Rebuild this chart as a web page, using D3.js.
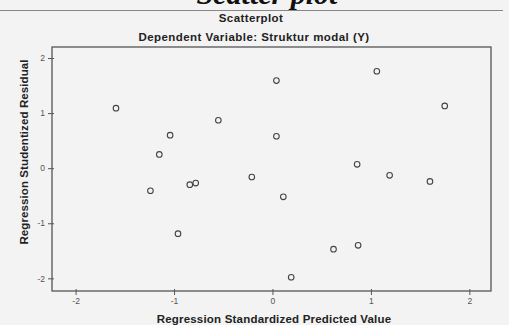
<!DOCTYPE html>
<html>
<head>
<meta charset="utf-8">
<script src="https://cdn.jsdelivr.net/npm/d3@7"></script>
<style>
  body { margin: 0; background: #f3f3f3; }
  #chart { width: 509px; height: 325px; }
</style>
</head>
<body>
<div id="chart"></div>
<script>
// predicted value (x) and studentized residual (y)
var predicted = [-1.59, -0.55, 0.04, 1.06, 1.75, -1.04, -1.15, 0.04, 0.86, -0.21,
                 1.19, 1.60, -1.24, -0.84, -0.78, 0.11, -0.96, 0.62, 0.87, 0.19];
var residual  = [1.09, 0.87, 1.59, 1.76, 1.13, 0.60, 0.25, 0.58, 0.07, -0.16,
                 -0.13, -0.24, -0.41, -0.30, -0.27, -0.52, -1.19, -1.47, -1.40, -1.98];
var xTicks = [-2, -1, 0, 1, 2];
var yTicks = [-2, -1, 0, 1, 2];

var W = 509, H = 325;
var margin = {top: 47, right: 18, bottom: 34, left: 52};
var width = W - margin.left - margin.right,
    height = H - margin.top - margin.bottom;

var svg = d3.select("#chart").append("svg")
  .attr("width", W)
  .attr("height", H)
  .style("background-color", "#f3f3f3");

// heading of the page the chart was scanned from (cut off at the top, as in the scan)
svg.append("text")
  .attr("x", 267).attr("y", 4)
  .attr("text-anchor", "middle")
  .style("font-family", "Liberation Serif")
  .style("font-weight", "bold")
  .style("font-style", "italic")
  .style("font-size", "30px")
  .style("fill", "#111")
  .text("Scatter plot");

svg.append("line")
  .attr("x1", 0).attr("x2", 503)
  .attr("y1", 10.5).attr("y2", 10.5)
  .attr("stroke", "#888").attr("stroke-width", 1);

function boldText(sel, spacing) {
  return sel.attr("text-anchor", "middle")
    .style("font-family", "Liberation Sans")
    .style("font-weight", "bold")
    .style("font-size", "11.5px")
    .style("letter-spacing", spacing + "px")
    .style("fill", "#222");
}

boldText(svg.append("text").attr("x", 251).attr("y", 22), 0.4)
  .text("Scatterplot");

boldText(svg.append("text").attr("x", 254).attr("y", 41), 0.45)
  .text("Dependent Variable: Struktur modal (Y)");

var g = svg.append("g")
  .attr("transform", "translate(" + margin.left + "," + margin.top + ")");

var x = d3.scaleLinear().domain([-2.24, 2.22]).range([0, width]);
var y = d3.scaleLinear().domain([-2.23, 2.2]).range([height, 0]);

g.append("rect")
  .attr("x", 0).attr("y", 0)
  .attr("width", width).attr("height", height)
  .attr("fill", "none")
  .attr("stroke", "#555")
  .attr("stroke-width", 1.3);

var xAxis = g.append("g")
  .attr("transform", "translate(0," + height + ")")
  .call(d3.axisBottom(x).tickValues(xTicks).tickSize(4).tickFormat(function(d) { return String(d); }));

var yAxis = g.append("g")
  .call(d3.axisLeft(y).tickValues(yTicks).tickSize(4).tickFormat(function(d) { return String(d); }));

[xAxis, yAxis].forEach(function(a) {
  a.select(".domain").remove();
  a.selectAll("line").attr("stroke", "#555");
  a.selectAll("text")
    .style("font-family", "Liberation Sans")
    .style("font-size", "8.5px")
    .style("fill", "#555");
});
xAxis.selectAll("line").attr("y1", -2);
yAxis.selectAll("line").attr("x1", 2);

g.selectAll(".pt")
  .data(predicted.map(function(d, i) { return {x: d, y: residual[i]}; }))
  .enter().append("circle")
  .attr("class", "pt")
  .attr("cx", function(d) { return x(d.x); })
  .attr("cy", function(d) { return y(d.y); })
  .attr("r", 2.8)
  .attr("fill", "none")
  .attr("stroke", "#444")
  .attr("stroke-width", 1.1);

boldText(svg.append("text")
  .attr("transform", "translate(28,152) rotate(-90)"), 0.1)
  .text("Regression Studentized Residual");

boldText(svg.append("text").attr("x", 274).attr("y", 323), 0.2)
  .text("Regression Standardized Predicted Value");
</script>
</body>
</html>
